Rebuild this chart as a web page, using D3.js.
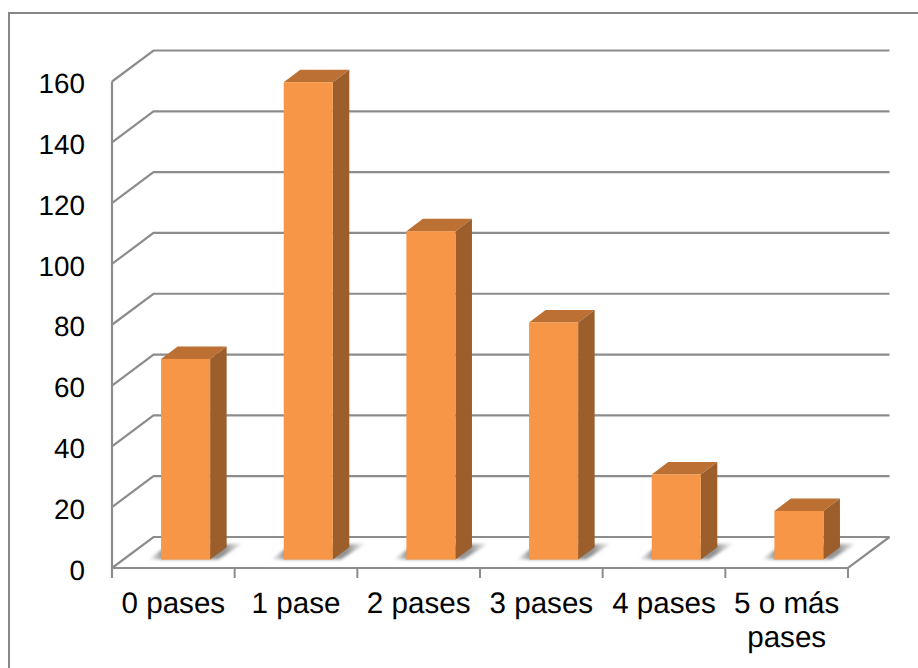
<!DOCTYPE html>
<html>
<head>
<meta charset="utf-8">
<script src="https://cdn.jsdelivr.net/npm/d3@7/dist/d3.min.js"></script>
<style>
html,body{margin:0;padding:0;background:#fff}
svg{display:block}
text{font-family:"Liberation Sans",Arial,sans-serif;fill:#000;text-rendering:geometricPrecision}
</style>
</head>
<body>
<svg id="chart" width="918" height="668"></svg>
<script>
// Passes recorded per category
const categories = ["0 pases", "1 pase", "2 pases", "3 pases", "4 pases", "5 o más pases"];
const counts = [66, 157, 108, 78, 28, 16];
const yTicks = [0, 20, 40, 60, 80, 100, 120, 140, 160];

const W = 918, H = 668;
const plot = {left: 112, right: 848, top: 81.5, bottom: 568};
const depth = {dx: 41.5, dy: -31};     // wall/floor recess of the 3D box
const barDepth = {dx: 16.5, dy: -12.4}; // extrusion of each column
const barLift = 8.4;                    // columns stand this far behind the front floor edge
const GRID = "#8c8c8c";
const FONT_Y = 27.8, FONT_X = 29.6;

const svg = d3.select("#chart");
const defs = svg.append("defs");

const blur = defs.append("filter").attr("id", "soft")
  .attr("x", "-30%").attr("y", "-60%").attr("width", "160%").attr("height", "220%");
blur.append("feGaussianBlur").attr("stdDeviation", 1.6);

const soft = defs.append("filter").attr("id", "aa")
  .attr("x", "-5%").attr("y", "-5%").attr("width", "110%").attr("height", "110%");
soft.append("feGaussianBlur").attr("stdDeviation", 0.35);

// Floor shadow fades out at both ends, with the column covering its middle
const shade = defs.append("linearGradient").attr("id", "floorShadow")
  .attr("x1", 0).attr("x2", 1).attr("y1", 0).attr("y2", 0);
shade.append("stop").attr("offset", "0%").attr("stop-color", "#8a8a8a").attr("stop-opacity", 0);
shade.append("stop").attr("offset", "15%").attr("stop-color", "#808080").attr("stop-opacity", 0.85);
shade.append("stop").attr("offset", "80%").attr("stop-color", "#808080").attr("stop-opacity", 0.85);
shade.append("stop").attr("offset", "100%").attr("stop-color", "#8a8a8a").attr("stop-opacity", 0);

const y = d3.scaleLinear().domain([0, 160]).range([plot.bottom, plot.top]);
const x = d3.scaleBand().domain(categories).range([plot.left, plot.right]);

// Outer chart frame: only the top and left edges are visible
svg.append("path")
  .attr("d", d3.line()([[9, H], [9, 13], [W, 13]]))
  .attr("fill", "none").attr("stroke", "#878787").attr("stroke-width", 2);

const lines = svg.append("g").attr("filter", "url(#aa)")
  .attr("fill", "none").attr("stroke", GRID).attr("stroke-width", 2.2);

// Back wall gridlines with their diagonal run along the side wall
lines.selectAll("path.grid").data(yTicks).join("path").attr("class", "grid")
  .attr("d", d => d3.line()([
    [plot.left, y(d)],
    [plot.left + depth.dx, y(d) + depth.dy],
    [plot.right + depth.dx, y(d) + depth.dy]
  ]));

// Floor: front edge and right edge
lines.append("path").attr("d", d3.line()([
  [plot.left, plot.bottom],
  [plot.right, plot.bottom],
  [plot.right + depth.dx, plot.bottom + depth.dy]
]));

// Value axis
const yAxis = d3.axisLeft(y).tickValues(yTicks).tickSize(9).tickPadding(18);
const yG = svg.append("g").attr("transform", `translate(${plot.left},0)`).call(yAxis);
yG.select(".domain").remove();
yG.selectAll("line").attr("stroke", GRID).attr("stroke-width", 2.2).attr("filter", "url(#aa)");
yG.selectAll("text").attr("font-size", FONT_Y).attr("fill", "#000").attr("dy", "0.4em")
  .style("font-family", '"Liberation Sans",Arial,sans-serif');
svg.append("line")
  .attr("x1", plot.left).attr("x2", plot.left)
  .attr("y1", plot.top).attr("y2", plot.bottom + 10)
  .attr("stroke", GRID).attr("stroke-width", 2.2);

// Category ticks sit on band boundaries
const xEdges = categories.map(c => x(c)).concat(plot.right);
svg.append("g").selectAll("line").data(xEdges).join("line")
  .attr("x1", d => d).attr("x2", d => d)
  .attr("y1", plot.bottom).attr("y2", plot.bottom + 10)
  .attr("stroke", GRID).attr("stroke-width", 2);

// Columns
const bw = x.step() * 0.4;
const barLeft = c => x(c) + x.step() * 0.4;
const base = plot.bottom - barLift;
const unit = y(0) - y(1);
const topY = v => base - v * unit;

const bars = svg.append("g").selectAll("g").data(categories.map((c, i) => ({c, v: counts[i]}))).join("g");

// Soft shadow cast on the floor
bars.append("path")
  .attr("filter", "url(#soft)")
  .attr("fill", "url(#floorShadow)")
  .attr("d", d => {
    const l = barLeft(d.c);
    return d3.line()([
      [l - 13, base],
      [l + 4, base + barDepth.dy],
      [l + bw + barDepth.dx + 17, base + barDepth.dy - 4],
      [l + bw + 8, base]
    ]) + "Z";
  });

bars.append("path").attr("fill", "#bc7034")
  .attr("d", d => {
    const l = barLeft(d.c), t = topY(d.v);
    return d3.line()([[l, t], [l + bw, t], [l + bw + barDepth.dx, t + barDepth.dy], [l + barDepth.dx, t + barDepth.dy]]) + "Z";
  });
bars.append("path").attr("fill", "#9c5e2b")
  .attr("d", d => {
    const l = barLeft(d.c), t = topY(d.v);
    return d3.line()([[l + bw, t], [l + bw + barDepth.dx, t + barDepth.dy], [l + bw + barDepth.dx, base + barDepth.dy], [l + bw, base]]) + "Z";
  });
bars.append("rect").attr("fill", "#f79646")
  .attr("x", d => barLeft(d.c)).attr("width", bw)
  .attr("y", d => topY(d.v)).attr("height", d => base - topY(d.v));

// Category labels, wrapped to the band width
const labelLines = {"5 o más pases": ["5 o más", "pases"]};
const labels = svg.append("g").selectAll("text").data(categories).join("text")
  .attr("text-anchor", "middle").attr("font-size", FONT_X)
  .attr("x", d => x(d) + x.step() / 2).attr("y", 613);
labels.selectAll("tspan").data(d => (labelLines[d] || [d]).map(t => ({t, d}))).join("tspan")
  .attr("x", o => x(o.d) + x.step() / 2)
  .attr("dy", (o, i) => i ? 34 : 0)
  .text(o => o.t);
</script>
</body>
</html>
